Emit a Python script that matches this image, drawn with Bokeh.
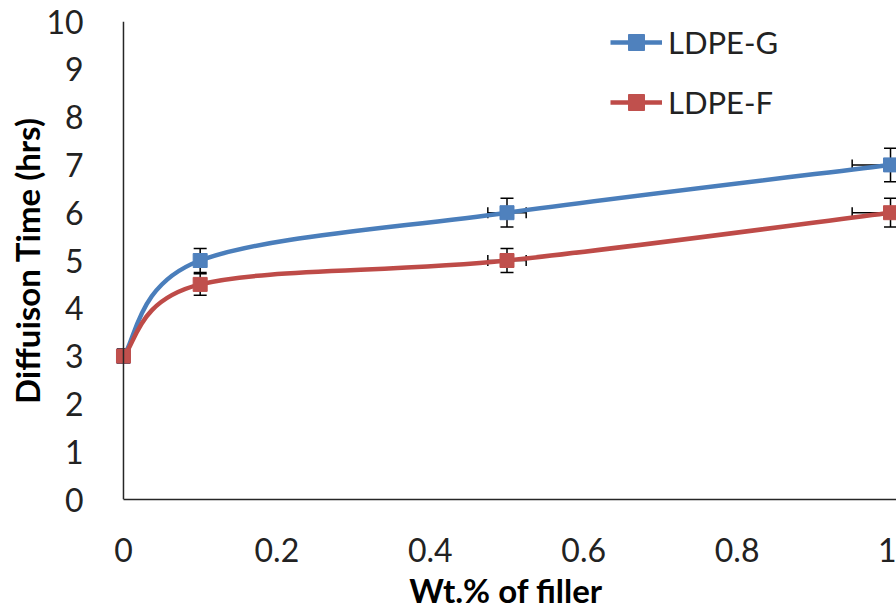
from bokeh.plotting import figure
from bokeh.models import (Whisker, TeeHead, ColumnDataSource, FixedTicker,
                          NumeralTickFormatter, Legend, LegendItem, Range1d, Span)
from bokeh.embed import file_html
from bokeh.resources import INLINE

# ---- data ----
wt = [0.0, 0.1, 0.5, 1.0]
ldpe_g = [3.0, 5.0, 6.0, 7.0]
ldpe_f = [3.0, 4.5, 5.0, 6.0]
x_err = [0.0, 0.005, 0.025, 0.05]
g_err = [0.15, 0.25, 0.30, 0.35]
f_err = [0.15, 0.225, 0.25, 0.30]
x_ticks = [0, 0.2, 0.4, 0.6, 0.8, 1.0]
y_ticks = list(range(0, 11))

BLUE_LINE, BLUE_MARK = "#4A7EBB", "#4F81BD"
RED_LINE, RED_MARK = "#BE4B48", "#C0504D"
FONT = "Lato"
AXIS_COLOR = "#262626"

X0, X1 = -0.0104, 1.0078

p = figure(width=896, height=614, output_backend="svg", toolbar_location=None,
           x_range=Range1d(X0, X1), y_range=Range1d(0, 10),
           min_border_left=115, min_border_right=0, min_border_top=21,
           min_border_bottom=115)
p.outline_line_color = None
p.xgrid.visible = False
p.ygrid.visible = False
p.background_fill_color = "white"
p.border_fill_color = "white"


def smooth_segments(xs, ys):
    """Bezier control points (Excel-like smoothing) for the lines between points."""
    n = len(xs)
    seg = dict(x0=[], y0=[], x1=[], y1=[], cx0=[], cy0=[], cx1=[], cy1=[])
    for i in range(n - 1):
        im1 = max(i - 1, 0)
        ip2 = min(i + 2, n - 1)
        seg["x0"].append(xs[i]); seg["y0"].append(ys[i])
        seg["x1"].append(xs[i + 1]); seg["y1"].append(ys[i + 1])
        seg["cx0"].append(xs[i] + (xs[i + 1] - xs[im1]) / 6)
        seg["cy0"].append(ys[i] + (ys[i + 1] - ys[im1]) / 6)
        seg["cx1"].append(xs[i + 1] - (xs[ip2] - xs[i]) / 6)
        seg["cy1"].append(ys[i + 1] - (ys[ip2] - ys[i]) / 6)
    return seg


series = [("LDPE-G", ldpe_g, g_err, BLUE_LINE, BLUE_MARK),
          ("LDPE-F", ldpe_f, f_err, RED_LINE, RED_MARK)]

# y axis line at x = 0
p.add_layout(Span(location=0, dimension="height", line_color=AXIS_COLOR,
                  line_width=1.5))

# error bars first (under the lines)
for name, ys, ye, lc, mc in series:
    src = ColumnDataSource(dict(
        x=wt, y=ys,
        ylo=[a - b for a, b in zip(ys, ye)], yhi=[a + b for a, b in zip(ys, ye)],
        xlo=[a - b for a, b in zip(wt, x_err)], xhi=[a + b for a, b in zip(wt, x_err)]))
    wy = Whisker(source=src, base="x", lower="ylo", upper="yhi", dimension="height",
                 line_color="black", line_width=1.5,
                 upper_head=TeeHead(size=13, line_color="black", line_width=1.5),
                 lower_head=TeeHead(size=13, line_color="black", line_width=1.5))
    wx = Whisker(source=src, base="y", lower="xlo", upper="xhi", dimension="width",
                 line_color="black", line_width=1.5,
                 upper_head=TeeHead(size=11, line_color="black", line_width=1.5),
                 lower_head=TeeHead(size=11, line_color="black", line_width=1.5))
    p.add_layout(wy)
    p.add_layout(wx)

items = []
for name, ys, ye, lc, mc in series:
    seg = smooth_segments(wt, ys)
    p.bezier(source=ColumnDataSource(seg), x0="x0", y0="y0", x1="x1", y1="y1",
             cx0="cx0", cy0="cy0", cx1="cx1", cy1="cy1",
             line_color=lc, line_width=4.5)
    # legend stand-in line renderer (outside the visible ranges)
    lr = p.line([-1, -2], [-1, -2], line_color=lc, line_width=4.5)
    sr = p.scatter(wt, ys, marker="square", size=14, fill_color=mc, line_color=mc)
    items.append(LegendItem(label=name, renderers=[lr, sr]))

legend = Legend(items=items, location=(495, 377), orientation="vertical",
                border_line_color=None, background_fill_alpha=0,
                glyph_width=52, glyph_height=40, label_height=40,
                label_standoff=6, spacing=20, padding=0, margin=0,
                label_text_font=FONT, label_text_font_size="31px",
                label_text_color="#222222")
p.add_layout(legend)

# axes
p.xaxis.ticker = FixedTicker(ticks=x_ticks)
p.xaxis.formatter = NumeralTickFormatter(format="0.[0]")
p.xaxis.bounds = (0, X1)
p.yaxis.ticker = FixedTicker(ticks=y_ticks)
for ax in (p.xaxis[0], p.yaxis[0]):
    ax.major_tick_line_color = None
    ax.minor_tick_line_color = None
    ax.axis_line_color = AXIS_COLOR
    ax.axis_line_width = 1.5
    ax.major_label_text_font = FONT
    ax.major_label_text_font_size = "32px"
    ax.major_label_text_color = "#222222"
    ax.axis_label_text_font = FONT
    ax.axis_label_text_font_size = "33px"
    ax.axis_label_text_font_style = "bold"
    ax.axis_label_text_color = "black"
    ax.axis_label_text_line_height = 1.0
p.yaxis.axis_line_color = None

p.xaxis.axis_label = "Wt.% of filler"
p.yaxis.axis_label = "Diffuison Time (hrs)"
p.xaxis.major_label_standoff = 32
p.yaxis.major_label_standoff = 26
p.xaxis.axis_label_standoff = 5
p.yaxis.axis_label_standoff = -4

open("out.html", "w").write(file_html(p, INLINE))
